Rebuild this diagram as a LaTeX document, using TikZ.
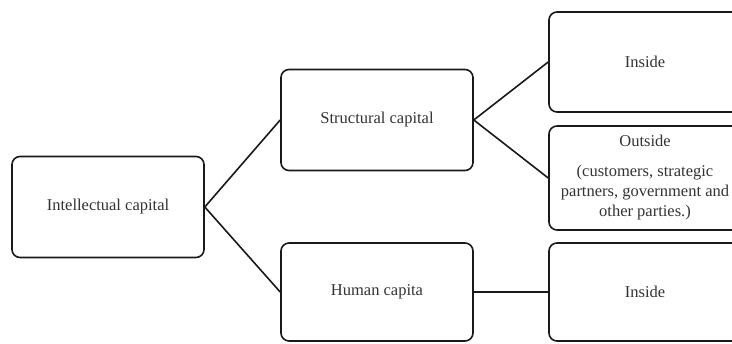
\documentclass[tikz,border=0pt]{standalone}
\usepackage{fontspec}
\setmainfont{Liberation Serif}
\usetikzlibrary{positioning}

\begin{document}
\begin{tikzpicture}[x=1pt,y=-1pt,
    capbox/.style={draw, black!90, text=black!80, rounded corners=8pt, line width=1.6pt,
      minimum width=192pt, minimum height=101pt, inner sep=0pt, align=center,
      font=\fontsize{16.5}{20}\selectfont},
    link/.style={black!90, line width=1.6pt}]
     \useasboundingbox (0,0) rectangle (732,344);
     \clip (0,0) rectangle (732,344);

     \node[capbox] (intel) at (108,207) {Intellectual capital};
     \node[capbox] (struct) at (377,120) {Structural capital};
     \node[capbox, minimum height=98pt] (human) at (377,292) {Human capita};

     \node[capbox, minimum height=100pt] (sinside) at (645,62) {Inside};
     \node[capbox, minimum height=104pt] (soutside) at (645,178)
        {Outside\\[10pt](customers, strategic\\partners, government and\\other parties.)};
     \node[capbox, minimum height=98pt] (hinside) at (645,292) {Inside};

     \draw[link] (intel.east) -- (struct.west);
     \draw[link] (intel.east) -- (human.west);
     \draw[link] (struct.east) -- (sinside.west);
     \draw[link] (struct.east) -- (soutside.west);
     \draw[link] (human.east) -- (hinside.west);
\end{tikzpicture}
\end{document}
